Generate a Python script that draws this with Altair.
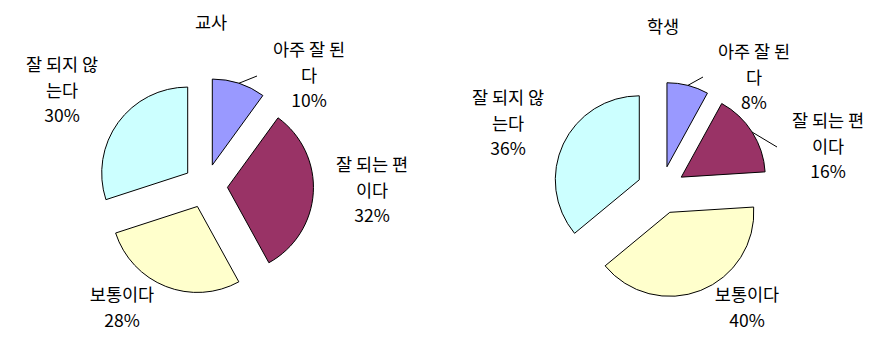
import math
import altair as alt
import pandas as pd

# ---------------- data ----------------
categories = ["아주 잘 된다", "잘 되는 편이다", "보통이다", "잘 되지 않는다"]
groups = ["교사", "학생"]
teacher_values = [10, 32, 28, 30]
student_values = [8, 16, 40, 36]
label_lines = [["아주 잘 된", "다"], ["잘 되는 편", "이다"], ["보통이다"], ["잘 되지 않", "는다"]]

# ---------------- styles / layout ----------------
colors = ["#9999FF", "#993366", "#FFFFCC", "#CCFFFF"]
FONT = "Noto Sans CJK KR"
FONT_SIZE = 17.5
LINE_H = 25.5
BASE_SHIFT = 5  # first-line centre -> alphabetic baseline
W, H = 865, 324  # page 881x340 minus 8px margin

PIE = {
    "교사": dict(cx=205.5, cy=186, r=86, e=22, tx=211, ty=24),
    "학생": dict(cx=661, cy=190, r=84, e=24, tx=663, ty=28),
}
LABEL_POS = {
    "교사": [(309, 51), (372, 166), (122, 296), (62, 66)],
    "학생": [(754, 53), (828, 122), (747, 296), (508, 99)],
}
LEADER_END = {
    "교사": [(257, 76), None, None, None],
    "학생": [(703, 77), (777, 147), None, None],
}

values_by_group = {"교사": teacher_values, "학생": student_values}

# arc table
arc_rows = []
for g in groups:
    p = PIE[g]
    for i, (c, v) in enumerate(zip(categories, values_by_group[g])):
        le = LEADER_END[g][i]
        arc_rows.append(dict(group=g, cat=c, value=v, order=i,
                             cx=p["cx"], cy=p["cy"], r=p["r"], e=p["e"],
                             lx=le[0] if le else None, ly=le[1] if le else None))
arc_df = pd.DataFrame(arc_rows)

# text table (labels + titles), one block per label
text_rows = []
for g in groups:
    p = PIE[g]
    text_rows.append(dict(x=p["tx"], y=p["ty"] + BASE_SHIFT, text=g))
    for i, v in enumerate(values_by_group[g]):
        x0, y0 = LABEL_POS[g][i]
        lines = label_lines[i] + [f"{v}%"]
        text_rows.append(dict(x=x0, y=y0 + BASE_SHIFT, text="\n".join(lines)))
text_df = pd.DataFrame(text_rows)

xs = alt.Scale(domain=[8, 8 + W], range=[0, W])
ys = alt.Scale(domain=[8, 8 + H], range=[0, H])

base = alt.Chart(arc_df).transform_window(
    cum="sum(value)", sort=[alt.SortField("order")], groupby=["group"], frame=[None, 0]
).transform_calculate(
    start="datum.cum - datum.value",
    mid="(datum.cum - datum.value / 2) * 2 * PI / 100",
).transform_calculate(
    ex="datum.cx + datum.e * sin(datum.mid)",
    ey="datum.cy - datum.e * cos(datum.mid)",
).transform_calculate(
    lx0="datum.ex + datum.r * sin(datum.mid)",
    ly0="datum.ey - datum.r * cos(datum.mid)",
)

arcs = base.mark_arc(stroke="black", strokeWidth=1).encode(
    x=alt.X("ex:Q", scale=xs, axis=None),
    y=alt.Y("ey:Q", scale=ys, axis=None),
    theta=alt.Theta("start:Q", scale=alt.Scale(domain=[0, 100], range=[0, 2 * math.pi]), stack=False),
    theta2="cum:Q",
    radius=alt.Radius("r:Q", scale=None),
    color=alt.Color("cat:N", scale=alt.Scale(domain=categories, range=colors), legend=None),
)

leaders = base.transform_filter("isValid(datum.lx)").mark_rule(color="black", strokeWidth=1).encode(
    x=alt.X("lx0:Q", scale=xs, axis=None),
    y=alt.Y("ly0:Q", scale=ys, axis=None),
    x2="lx:Q",
    y2="ly:Q",
)

texts = alt.Chart(text_df).mark_text(
    font=FONT, fontSize=FONT_SIZE, color="black", align="center", baseline="alphabetic",
    lineBreak="\n", lineHeight=LINE_H,
).encode(
    x=alt.X("x:Q", scale=xs, axis=None),
    y=alt.Y("y:Q", scale=ys, axis=None),
    text="text:N",
)

chart = alt.layer(arcs, leaders, texts).properties(
    width=W, height=H, padding=0, autosize=alt.AutoSizeParams(type="none"),
    background="white",
).configure_view(stroke=None)

chart.save("out.html", embed_options={"renderer": "svg", "actions": False})
